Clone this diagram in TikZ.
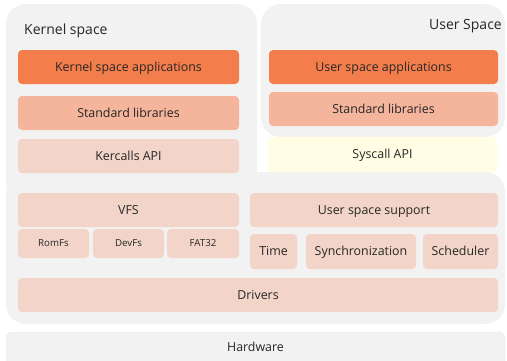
\documentclass[tikz,border=0pt]{standalone}
\usepackage{fontspec}
\setmainfont{Open Sans}
\usetikzlibrary{positioning}

\definecolor{appcol}{HTML}{F47E4B}
\definecolor{libcol}{HTML}{F4B59C}
\definecolor{basecol}{HTML}{F2D5C8}
\definecolor{apicol}{HTML}{FFFDE4}
\definecolor{spacecol}{HTML}{F2F2F2}
\definecolor{txtcol}{HTML}{262626}

\begin{document}
\begin{tikzpicture}[x=1pt,y=-1pt,every node/.style={text=txtcol},
  block/.style={rectangle,rounded corners=4pt,minimum height=34pt,inner sep=0pt,outer sep=0pt,
    text height=8.8pt,text depth=0pt,font=\fontsize{12.4}{14}\selectfont},
  small/.style={block,minimum height=29pt,text height=6.9pt,font=\fontsize{9.7}{11}\selectfont},
  title/.style={font=\fontsize{14}{16}\selectfont,inner sep=0pt}]

        \useasboundingbox (0,0) rectangle (507,360);

        % grey areas
        \fill[spacecol,rounded corners=20pt] (6,4) rectangle (257,200);
        \fill[spacecol,rounded corners=20pt] (6,172) rectangle (505,324);
        \fill[spacecol,rounded corners=20pt] (261,4) rectangle (505,137);
        \filldraw[fill=spacecol,draw=black!9,rounded corners=6pt] (6,332) rectangle (505,372);

        \node[title,anchor=base west] (kspace) at (24,34) {Kernel space};
        \node[title,anchor=base east] (uspace) at (502,29.3) {User Space};

        % kernel side
        \node[block,fill=appcol,minimum width=221pt] (kapp) at (128.5,67) {Kernel space applications};
        \node[block,fill=libcol,minimum width=221pt] (kstd) at (128.5,113) {Standard libraries};
        \node[block,fill=basecol,minimum width=221pt] (kcall) at (128.5,156) {Kercalls API};

        % user side
        \node[block,fill=appcol,minimum width=229pt] (uapp) at (383.5,67) {User space applications};
        \node[block,fill=libcol,minimum width=229pt] (ustd) at (383.5,109) {Standard libraries};
        \node[block,fill=apicol,minimum width=229pt,minimum height=35pt] (sys) at (382.5,154.5) {Syscall API};

        % file systems
        \node[block,fill=basecol,minimum width=221pt] (vfs) at (128.5,210) {VFS};
        \node[small,fill=basecol,minimum width=71pt] (romfs) at (53.5,243.5) {RomFs};
        \node[small,fill=basecol,minimum width=71pt,right=4pt of romfs] (devfs) {DevFs};
        \node[small,fill=basecol,minimum width=72pt,right=3pt of devfs] (fat) {FAT32};

        % user space support
        \node[block,fill=basecol,minimum width=248pt] (uss) at (374,210) {User space support};
        \node[block,fill=basecol,minimum width=47pt,minimum height=35pt] (time) at (273.5,251.5) {Time};
        \node[block,fill=basecol,minimum width=110pt,minimum height=35pt,right=9pt of time] (sync) {Synchronization};
        \node[block,fill=basecol,minimum width=75pt,minimum height=35pt,right=7pt of sync] (sched) {Scheduler};

        \node[block,fill=basecol,minimum width=480pt] (drv) at (258,295) {Drivers};
        \node[block,draw=none] (hw) at (255.5,347) {Hardware};
\end{tikzpicture}
\end{document}
